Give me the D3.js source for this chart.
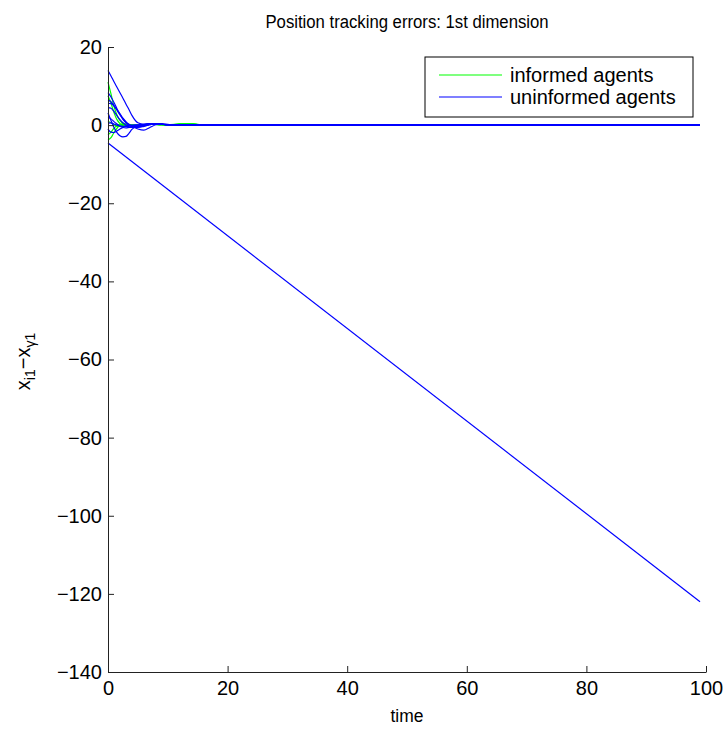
<!DOCTYPE html>
<html>
<head>
<meta charset="utf-8">
<script src="https://cdn.jsdelivr.net/npm/d3@7/dist/d3.min.js"></script>
<style>
  html, body { margin: 0; padding: 0; background: #fff; }
  svg { display: block; font-family: "Liberation Sans", Arial, Helvetica, sans-serif; }
</style>
</head>
<body>
<svg id="chart" width="724" height="729"></svg>
<script>
// Sample times shared by the agents' error traces
const times = [0, 0.5, 1, 1.5, 2, 2.5, 3, 3.5, 4, 5, 6, 7, 8, 9, 10, 12, 14, 16, 20, 99];

// Informed agents (green): tracking error x_i1 - x_γ1 at each sample time
const informedAgents = [
  [11, 8.0, 4.8, 2.6, 1.2, 0.4, 0, -0.2, -0.2, -0.1, 0.1, 0.2, 0.2, 0.1, 0.1, 0.3, 0.35, 0, 0, 0],
  [7.5, 5.6, 3.2, 1.4, 0.4, -0.2, -0.3, -0.2, -0.1, 0, 0.1, 0.2, 0.2, 0.1, 0, 0.3, 0.3, 0, 0, 0],
  [-3.8, -3.2, -1.9, -0.8, 0, 0.3, 0.3, 0.2, 0.1, 0, 0.1, 0.2, 0.2, 0.1, 0, 0.2, 0.3, 0, 0, 0],
  [-2.5, -1.8, -0.8, -0.1, 0.2, 0.2, 0.1, 0, 0, 0, 0.1, 0.2, 0.2, 0.1, 0, 0.2, 0.2, 0, 0, 0],
  [1.0, 0.6, 0.1, -0.3, -0.3, -0.2, -0.1, 0, 0, 0.1, 0.1, 0.2, 0.2, 0.1, 0, 0.2, 0.3, 0, 0, 0]
];

// Uninformed agents (blue) that converge to the leader
const uninformedAgents = [
  [14, 12.6, 11.1, 9.7, 8.3, 6.9, 5.4, 4.0, 2.5, 0.6, 0.2, 0.3, 0.4, 0.3, 0.1, 0, 0, 0, 0, 0],
  [8.3, 7.2, 5.8, 4.2, 2.8, 1.6, 0.7, 0.1, -0.2, -0.3, -0.1, 0.2, 0.3, 0.2, 0.1, 0, 0, 0, 0, 0],
  [6.4, 6.0, 5.0, 3.8, 2.6, 1.5, 0.6, 0, -0.4, -0.6, -0.3, 0.1, 0.3, 0.2, 0.1, 0, 0, 0, 0, 0],
  [5.6, 5.5, 4.9, 4.0, 2.9, 1.8, 0.9, 0.2, -0.3, -1.0, -1.3, -0.6, 0.1, 0.3, 0.2, 0, 0, 0, 0, 0],
  [4.5, 4.3, 3.5, 2.4, 1.4, 0.6, 0, -0.4, -0.6, -0.5, -0.2, 0.1, 0.3, 0.2, 0.1, 0, 0, 0, 0, 0],
  [3.1, 1.2, -0.6, -1.9, -2.7, -3.0, -2.9, -2.1, -1.1, -0.3, 0.1, 0.3, 0.3, 0.2, 0.1, 0, 0, 0, 0, 0],
  [2.0, 1.6, 0.9, 0.3, -0.3, -0.6, -0.7, -0.6, -0.5, -0.2, 0.1, 0.3, 0.3, 0.2, 0.1, 0, 0, 0, 0, 0],
  [0.5, 0.6, 0.3, 0, -0.2, -0.3, -0.3, -0.2, -0.1, 0, 0.2, 0.3, 0.3, 0.2, 0.1, 0, 0, 0, 0, 0],
  [-1.0, -1.8, -1.9, -1.5, -1.0, -0.6, -0.3, -0.1, 0, 0.1, 0.2, 0.3, 0.3, 0.2, 0.1, 0, 0, 0, 0, 0]
];

// The one uninformed agent that drifts away
const driftTimes = [0, 99];
const driftValues = [-4.6, -122];

// Axis ticks and labels
const xTicks = [0, 20, 40, 60, 80, 100];
const yTicks = [20, 0, -20, -40, -60, -80, -100, -120, -140];
const titleText = "Position tracking errors: 1st dimension";
const xLabelText = "time";
const legendLabels = ["informed agents", "uninformed agents"];
const seriesColors = ["#00ff00", "#0000ff"];

const svg = d3.select("#chart");
const plot = { left: 108, right: 706, top: 47, bottom: 672 };

const x = d3.scaleLinear().domain([0, 100]).range([plot.left, plot.right]);
const y = d3.scaleLinear().domain([-140, 20]).range([plot.bottom, plot.top]);

const fmt = d => (d < 0 ? "\u2212" + Math.abs(d) : String(d));

// Traces
const line = d3.line().x(d => x(d[0])).y(d => y(d[1])).curve(d3.curveMonotoneX);
const traces = svg.append("g").attr("fill", "none").attr("stroke-width", 1.2);

informedAgents.forEach(vals => {
  traces.append("path")
    .datum(times.map((t, i) => [t, vals[i]]))
    .attr("stroke", seriesColors[0])
    .attr("d", line);
});
uninformedAgents.forEach(vals => {
  traces.append("path")
    .datum(times.map((t, i) => [t, vals[i]]))
    .attr("stroke", seriesColors[1])
    .attr("d", line);
});
traces.append("path")
  .datum(driftTimes.map((t, i) => [t, driftValues[i]]))
  .attr("stroke", seriesColors[1])
  .attr("d", line);

// Axes (ticks point inward, no box)
const xAxis = d3.axisBottom(x).tickValues(xTicks).tickFormat(fmt)
  .tickSizeInner(-6).tickSizeOuter(0).tickPadding(9);
const yAxis = d3.axisLeft(y).tickValues(yTicks).tickFormat(fmt)
  .tickSizeInner(-6).tickSizeOuter(0).tickPadding(6);

const gx = svg.append("g").attr("transform", `translate(0,${plot.bottom})`).call(xAxis);
const gy = svg.append("g").attr("transform", `translate(${plot.left},0)`).call(yAxis);
[gx, gy].forEach(g => {
  g.selectAll("path, line").attr("stroke", "#222").attr("stroke-width", 1);
  g.selectAll("text").attr("font-size", 20).attr("fill", "#000")
    .attr("font-family", "'Liberation Sans', Arial, sans-serif");
});

// Title (slightly narrowed glyphs)
svg.append("text")
  .attr("transform", `translate(${(plot.left + plot.right) / 2},28) scale(0.88,1)`)
  .attr("text-anchor", "middle").attr("font-size", 19)
  .text(titleText);

// X label
svg.append("text")
  .attr("transform", `translate(${(plot.left + plot.right) / 2},722) scale(0.92,1)`)
  .attr("text-anchor", "middle").attr("font-size", 19)
  .text(xLabelText);

// Y label: x_i1 − x_γ1
const yl = svg.append("text")
  .attr("transform", `translate(30,${(plot.top + plot.bottom) / 2 + 2}) rotate(-90)`)
  .attr("text-anchor", "middle").attr("font-size", 20);
yl.append("tspan").text("x");
yl.append("tspan").attr("font-size", 14).attr("dy", 5).text("i1");
yl.append("tspan").attr("dy", -5).text("\u2212x");
yl.append("tspan").attr("font-size", 14).attr("dy", 5).text("\u03b31");

// Legend
const legend = svg.append("g").attr("transform", "translate(425,57)");
legend.append("rect").attr("width", 268).attr("height", 60)
  .attr("fill", "#fff").attr("stroke", "#000").attr("stroke-width", 1);
legendLabels.forEach((label, i) => {
  const ly = 18 + i * 22;
  legend.append("line").attr("x1", 14).attr("x2", 77).attr("y1", ly).attr("y2", ly)
    .attr("stroke", seriesColors[i]).attr("stroke-width", 1.1);
  legend.append("text").attr("x", 85).attr("y", ly + 7).attr("font-size", 20).text(label);
});
</script>
</body>
</html>
